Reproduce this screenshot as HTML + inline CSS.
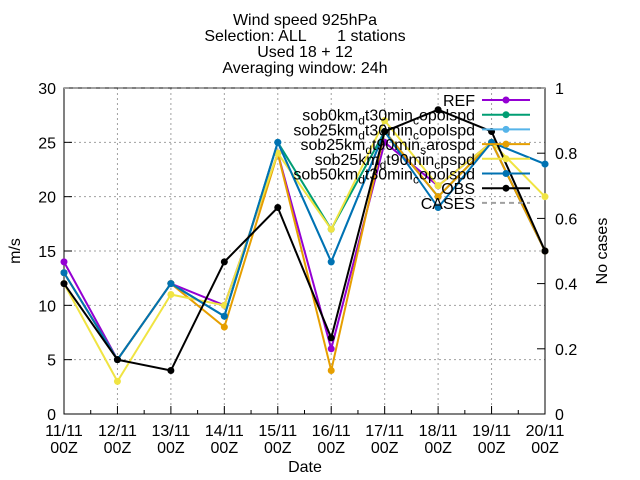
<!DOCTYPE html>
<html><head><meta charset="utf-8"><style>body{margin:0;background:#fff}svg{display:block;font-family:"Liberation Sans",sans-serif;font-size:16px}</style></head>
<body>
<svg id="chart" width="640" height="480" viewBox="0 0 640 480">
<g text-anchor="middle" font-size="16" style="white-space:pre">
<text x="305" y="25">Wind speed 925hPa</text>
<text x="305" y="41" xml:space="preserve">Selection: ALL       1 stations</text>
<text x="305" y="57">Used 18 + 12</text>
<text x="305" y="73">Averaging window: 24h</text>
</g>
<g id="grid"></g>
<g id="axes"></g>
<g id="series"></g>
<g id="legend"></g>
<text x="20" y="251" text-anchor="middle" transform="rotate(-90 20 251)">m/s</text>
<text x="607" y="251" text-anchor="middle" transform="rotate(-90 607 251)">No cases</text>
<text x="305" y="472" text-anchor="middle">Date</text>
</svg>
<script>
const categories=["11/11","12/11","13/11","14/11","15/11","16/11","17/11","18/11","19/11","20/11"];
const yTicks=[0,5,10,15,20,25,30];
const y2Ticks=[0,0.2,0.4,0.6,0.8,1];
const seriesNames=["REF","sob0km_dt30min_copolspd","sob25km_dt30min_copolspd","sob25km_dt90min_sarospd","sob25km_dt90min_cpspd","sob50km_dt30min_copolspd","OBS"];
const seriesColors=["#9400d3","#009e73","#56b4e9","#e69f00","#f0e442","#0072b2","#000000"];
const refVals=[14,5,12,10,24,6,25,21,25,15];
const sob0Vals=[13,5,12,9,25,17,26,20,25,15];
const sob25aVals=[13,5,12,9,25,14,26,20,25,23];
const sob25bVals=[13,5,12,8,24,4,26,20,25,15];
const sob25cVals=[12,3,11,10,24,17,27,21,25,20];
const sob50Vals=[13,5,12,9,25,14,26,19,25,23];
const obsVals=[12,5,4,14,19,7,26,28,26,15];
const casesVals=[1,1,1,1,1,1,1,1,1,1];
const allVals=[refVals,sob0Vals,sob25aVals,sob25bVals,sob25cVals,sob50Vals,obsVals];
const L=64,R=545,T=88,B=414;
const xs=i=>L+i*(R-L)/(categories.length-1);
const ys=v=>B-v*(B-T)/30;
const y2s=v=>B-v*(B-T);
const NS="http://www.w3.org/2000/svg";
function mk(tag,attrs,parent){const e=document.createElementNS(NS,tag);for(const k in attrs)e.setAttribute(k,attrs[k]);parent.appendChild(e);return e;}
const grid=document.getElementById('grid'),axes=document.getElementById('axes'),ser=document.getElementById('series'),leg=document.getElementById('legend');
yTicks.forEach(v=>{const y=ys(v);
 if(v>0&&v<30){const g=mk('line',{x1:L,x2:R,y1:y,y2:y,stroke:'#a0a0a0','stroke-dasharray':'2,3'},grid);}
 mk('line',{x1:L,x2:L+8,y1:y,y2:y,stroke:'#000'},axes);
 const t=mk('text',{x:L-8,y:y+6,'text-anchor':'end'},axes);t.textContent=v;
 });
y2Ticks.forEach(v=>{const y=y2s(v);
 mk('line',{x1:R-8,x2:R,y1:y,y2:y,stroke:'#000'},axes);
 const t=mk('text',{x:R+10,y:y+6,'text-anchor':'start'},axes);t.textContent=v;
 });
categories.forEach((c,i)=>{const x=xs(i);
 if(i>0&&i<categories.length-1){const g=mk('line',{x1:x,x2:x,y1:T,y2:B,stroke:'#a0a0a0','stroke-dasharray':'2,3'},grid);}
 mk('line',{x1:x,x2:x,y1:B,y2:B-8,stroke:'#000'},axes);
 if(i<categories.length-1){const xm=(x+xs(i+1))/2;mk('line',{x1:xm,x2:xm,y1:B,y2:B-4,stroke:'#000'},axes);}
 const t=mk('text',{x:x,y:B+22,'text-anchor':'middle'},axes);t.textContent=c;
 
 const t2=mk('text',{x:x,y:B+39,'text-anchor':'middle'},axes);t2.textContent='00Z';
 });
const frame=mk('rect',{x:L,y:T,width:R-L,height:B-T,fill:'none',stroke:'#000'},axes);

const cp=mk('polyline',{points:casesVals.map((v,i)=>xs(i)+','+y2s(v)).join(' '),fill:'none',stroke:'#a0a0a0','stroke-width':2,'stroke-dasharray':'5,4'},ser);

allVals.forEach((vals,s)=>{const col=seriesColors[s];
 const pl=mk('polyline',{points:vals.map((v,i)=>xs(i)+','+ys(v)).join(' '),fill:'none',stroke:col,'stroke-width':2},ser);
 
 vals.forEach((v,i)=>{const c=mk('circle',{cx:xs(i),cy:ys(v),r:3.5,fill:col},ser);
  });});
const legNames=seriesNames.concat(["CASES"]);
legNames.forEach((n,k)=>{const y=100+k*14.7;
 const t=mk('text',{x:475,y:y+6,'text-anchor':'end','font-size':'16'},leg);
 const parts=n.split('_');
 if(parts.length===1){t.textContent=n;}else{
  const p1=parts[1],p2=parts[2];
  const a=mk('tspan',{},t);a.textContent=parts[0];
  const s1=mk('tspan',{dy:'4','font-size':'12'},t);s1.textContent=p1[0];
  const m=mk('tspan',{dy:'-4'},t);m.textContent=p1.slice(1);
  const s2=mk('tspan',{dy:'4','font-size':'12'},t);s2.textContent=p2[0];
  const e=mk('tspan',{dy:'-4'},t);e.textContent=p2.slice(1);}
 
 if(k<seriesColors.length){const col=seriesColors[k];
  const l=mk('line',{x1:482,x2:530,y1:y,y2:y,stroke:col,'stroke-width':2},leg);
  
  mk('circle',{cx:506,cy:y,r:3.5,fill:col},leg);}
 else{const l=mk('line',{x1:482,x2:530,y1:y,y2:y,stroke:'#a0a0a0','stroke-width':2,'stroke-dasharray':'5,4'},leg);
  }
});
</script>
</body></html>
